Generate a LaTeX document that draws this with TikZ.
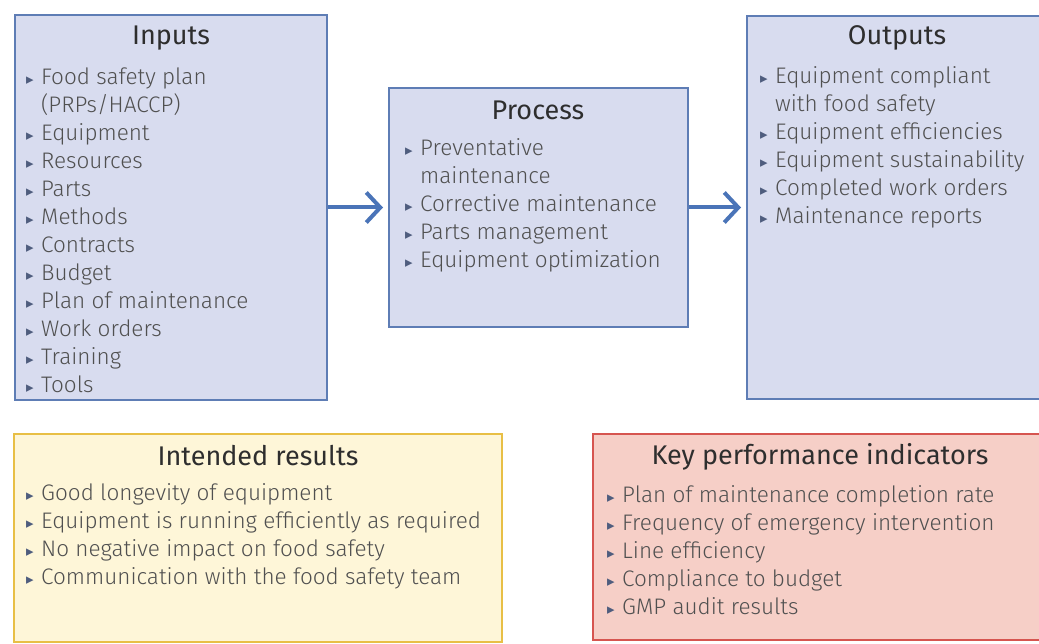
\documentclass[tikz,border=0pt]{standalone}
\usepackage{fontspec}
\setmainfont{Fira Sans}
\newfontfamily\lightf{Fira Sans Light}
\newfontfamily\symf{DejaVu Sans}
\usetikzlibrary{arrows.meta}

\definecolor{bluefill}{HTML}{D8DCEF}
\definecolor{blueline}{HTML}{5E7DB5}
\definecolor{yelfill}{HTML}{FEF6D8}
\definecolor{yelline}{HTML}{E8BF45}
\definecolor{redfill}{HTML}{F6CFC7}
\definecolor{redline}{HTML}{D65550}
\definecolor{itemtxt}{HTML}{505050}
\definecolor{titletxt}{HTML}{2E2E2E}
\definecolor{bulletcol}{HTML}{4F5D7E}
\definecolor{arrowblue}{HTML}{4A74B8}

% bullet marker and continuation indent for list lines
\newcommand{\bl}{\makebox[15pt][l]{\raisebox{0pt}{\color{bulletcol}\symf\fontsize{15}{15}\selectfont ▸}}}
\newcommand{\cn}{\hspace*{15pt}}

\tikzset{
  panel/.style={rectangle, inner sep=0pt, line width=2pt},
  bluepanel/.style={panel, draw=blueline, fill=bluefill},
  yelpanel/.style={panel, draw=yelline, fill=yelfill},
  redpanel/.style={panel, draw=redline, fill=redfill},
  paneltitle/.style={inner sep=0pt, text=titletxt, font=\fontsize{27}{30}\selectfont},
  itemlist/.style={inner sep=0pt, align=left, anchor=north west, text=itemtxt,
    font=\lightf\fontsize{22.5}{28}\selectfont},
  flow/.style={draw=arrowblue, line width=4pt,
    -{Straight Barb[length=14pt, width=30pt, line width=4pt]}, shorten >=5pt}
}

\begin{document}
\begin{tikzpicture}[x=1pt, y=-1pt]
\useasboundingbox (0,0) rectangle (1039,644);
\fill[white] (0,0) rectangle (1039,644);

% panels
\node[bluepanel, minimum width=312pt, minimum height=385pt] (inputs) at (171,207.5) {};
\node[bluepanel, minimum width=299pt, minimum height=239pt] (process) at (538.5,207.5) {};
\node[bluepanel, minimum width=300pt, minimum height=383pt] (outputs) at (897,207.5) {};
\node[yelpanel, minimum width=488pt, minimum height=208pt] (intended) at (258,538) {};
\node[redpanel, minimum width=454pt, minimum height=206pt] (kpi) at (820,537) {};

% titles
\node[paneltitle] (inputsT) at (171,38) {Inputs};
\node[paneltitle] (processT) at (538,110) {Process};
\node[paneltitle] (outputsT) at (897,38) {Outputs};
\node[paneltitle] (intendedT) at (258,456) {Intended results};
\node[paneltitle] (kpiT) at (820,457) {Key performance indicators};

% item lists
\node[itemlist] (inputsL) at (26,68) {%
\bl Food safety plan\\
\cn (PRPs/HACCP)\\
\bl Equipment\\
\bl Resources\\
\bl Parts\\
\bl Methods\\
\bl Contracts\\
\bl Budget\\
\bl Plan of maintenance\\
\bl Work orders\\
\bl Training\\
\bl Tools};

\node[itemlist] (processL) at (405,138) {%
\bl Preventative\\
\cn maintenance\\
\bl Corrective maintenance\\
\bl Parts management\\
\bl Equipment optimization};

\node[itemlist] (outputsL) at (760,66) {%
\bl Equipment compliant\\
\cn with food safety\\
\bl Equipment efficiencies\\
\bl Equipment sustainability\\
\bl Completed work orders\\
\bl Maintenance reports};

\node[itemlist] (intendedL) at (26,483) {%
\bl Good longevity of equipment\\
\bl Equipment is running efficiently as required\\
\bl No negative impact on food safety\\
\bl Communication with the food safety team};

\node[itemlist] (kpiL) at (607,485) {%
\bl Plan of maintenance completion rate\\
\bl Frequency of emergency intervention\\
\bl Line efficiency\\
\bl Compliance to budget\\
\bl GMP audit results};

% flow arrows
\draw[flow] (inputs.east) -- (process.west);
\draw[flow] (process.east) -- (outputs.west);
\end{tikzpicture}
\end{document}
